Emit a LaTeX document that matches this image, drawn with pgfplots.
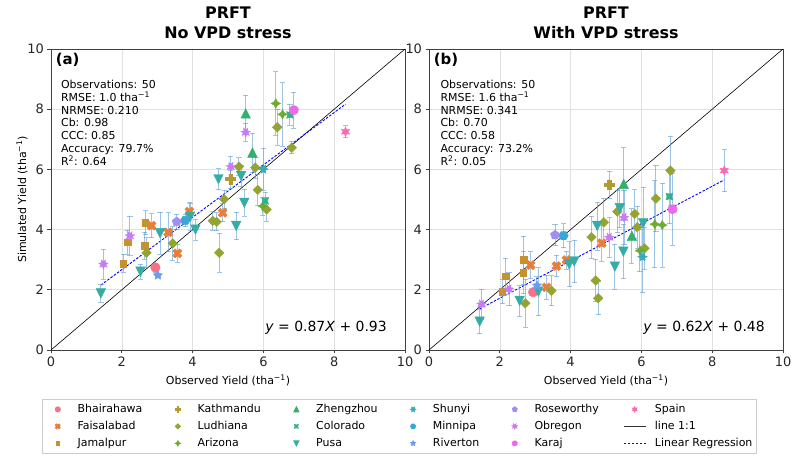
\documentclass[border=0pt]{standalone}
\usepackage{fontspec}
\setmainfont{DejaVu Sans}
\usepackage{pgfplots}
\pgfplotsset{compat=1.18}

\definecolor{cBha}{HTML}{F77189}
\definecolor{cFai}{HTML}{EA7D38}
\definecolor{cJam}{HTML}{C5922F}
\definecolor{cKat}{HTML}{B29B31}
\definecolor{cLud}{HTML}{95A331}
\definecolor{cAri}{HTML}{6DAB31}
\definecolor{cZhe}{HTML}{33B06C}
\definecolor{cCol}{HTML}{34AF8E}
\definecolor{cPus}{HTML}{36ADA4}
\definecolor{cShu}{HTML}{37ABB8}
\definecolor{cMin}{HTML}{3AA5D6}
\definecolor{cRiv}{HTML}{6A9CF3}
\definecolor{cRos}{HTML}{A08EF4}
\definecolor{cObr}{HTML}{C77CF4}
\definecolor{cKar}{HTML}{EA6BE9}
\definecolor{cSpa}{HTML}{F56CB5}
\definecolor{ebc}{HTML}{5E9CD3}
\definecolor{regb}{HTML}{0000FF}

\newcommand\Mv[2]{\pgfpathmoveto{\pgfqpoint{#1\pgfplotmarksize}{#2\pgfplotmarksize}}}
\newcommand\Ml[2]{\pgfpathlineto{\pgfqpoint{#1\pgfplotmarksize}{#2\pgfplotmarksize}}}
\newcommand\Mend{\pgfpathclose\pgfusepathqfillstroke}

\pgfdeclareplotmark{mo}{\pgfpathcircle{\pgfpointorigin}{\pgfplotmarksize}\pgfusepathqfillstroke}
\pgfdeclareplotmark{mX}{\Mv{0.4714}{-0.9428}\Ml{0}{-0.4714}\Ml{-0.4714}{-0.9428}\Ml{-0.9428}{-0.4714}\Ml{-0.4714}{0}\Ml{-0.9428}{0.4714}\Ml{-0.4714}{0.9428}\Ml{0}{0.4714}\Ml{0.4714}{0.9428}\Ml{0.9428}{0.4714}\Ml{0.4714}{0}\Ml{0.9428}{-0.4714}\Mend}
\pgfdeclareplotmark{msq}{\Mv{-0.7071}{0.7071}\Ml{-0.7071}{-0.7071}\Ml{0.7071}{-0.7071}\Ml{0.7071}{0.7071}\Mend}
\pgfdeclareplotmark{mP}{\Mv{-0.3333}{-1}\Ml{-0.3333}{-0.3333}\Ml{-1}{-0.3333}\Ml{-1}{0.3333}\Ml{-0.3333}{0.3333}\Ml{-0.3333}{1}\Ml{0.3333}{1}\Ml{0.3333}{0.3333}\Ml{1}{0.3333}\Ml{1}{-0.3333}\Ml{0.3333}{-0.3333}\Ml{0.3333}{-1}\Mend}
\pgfdeclareplotmark{mD}{\Mv{0}{1}\Ml{-1}{0}\Ml{0}{-1}\Ml{1}{0}\Mend}
\pgfdeclareplotmark{ms4}{\Mv{0}{1}\Ml{-0.3536}{0.3536}\Ml{-1}{0}\Ml{-0.3536}{-0.3536}\Ml{0}{-1}\Ml{0.3536}{-0.3536}\Ml{1}{0}\Ml{0.3536}{0.3536}\Mend}
\pgfdeclareplotmark{mtu}{\Mv{0}{1}\Ml{-1}{-1}\Ml{1}{-1}\Mend}
\pgfdeclareplotmark{ms4r}{\Mv{-0.7071}{0.7071}\Ml{-0.5}{0}\Ml{-0.7071}{-0.7071}\Ml{0}{-0.5}\Ml{0.7071}{-0.7071}\Ml{0.5}{0}\Ml{0.7071}{0.7071}\Ml{0}{0.5}\Mend}
\pgfdeclareplotmark{mtd}{\Mv{0}{-1}\Ml{-1}{1}\Ml{1}{1}\Mend}
\pgfdeclareplotmark{ms6r}{\Mv{-0.5}{0.866}\Ml{-0.433}{0.25}\Ml{-1}{0}\Ml{-0.433}{-0.25}\Ml{-0.5}{-0.866}\Ml{0}{-0.5}\Ml{0.5}{-0.866}\Ml{0.433}{-0.25}\Ml{1}{0}\Ml{0.433}{0.25}\Ml{0.5}{0.866}\Ml{0}{0.5}\Mend}
\pgfdeclareplotmark{mhex}{\Mv{-0.5}{0.866}\Ml{-1}{0}\Ml{-0.5}{-0.866}\Ml{0.5}{-0.866}\Ml{1}{0}\Ml{0.5}{0.866}\Mend}
\pgfdeclareplotmark{ms5}{\Mv{0}{1}\Ml{-0.2939}{0.4045}\Ml{-0.9511}{0.309}\Ml{-0.4755}{-0.1545}\Ml{-0.5878}{-0.809}\Ml{0}{-0.5}\Ml{0.5878}{-0.809}\Ml{0.4755}{-0.1545}\Ml{0.9511}{0.309}\Ml{0.2939}{0.4045}\Mend}
\pgfdeclareplotmark{mpent}{\Mv{0}{1}\Ml{-0.9511}{0.309}\Ml{-0.5878}{-0.809}\Ml{0.5878}{-0.809}\Ml{0.9511}{0.309}\Mend}
\pgfdeclareplotmark{ms7}{\Mv{-0.4339}{0.9010}\Ml{-0.3909}{0.3117}\Ml{-0.9749}{0.2225}\Ml{-0.4875}{-0.1113}\Ml{-0.7818}{-0.6235}\Ml{-0.2169}{-0.4505}\Ml{0}{-1}\Ml{0.2169}{-0.4505}\Ml{0.7818}{-0.6235}\Ml{0.4875}{-0.1113}\Ml{0.9749}{0.2225}\Ml{0.3909}{0.3117}\Ml{0.4339}{0.9010}\Ml{0}{0.5}\Mend}
\pgfdeclareplotmark{mhept}{\Mv{-0.4339}{0.9010}\Ml{-0.9749}{0.2225}\Ml{-0.7818}{-0.6235}\Ml{0}{-1}\Ml{0.7818}{-0.6235}\Ml{0.9749}{0.2225}\Ml{0.4339}{0.9010}\Mend}
\pgfdeclareplotmark{ms6}{\Mv{0}{1}\Ml{-0.25}{0.433}\Ml{-0.866}{0.5}\Ml{-0.5}{0}\Ml{-0.866}{-0.5}\Ml{-0.25}{-0.433}\Ml{0}{-1}\Ml{0.25}{-0.433}\Ml{0.866}{-0.5}\Ml{0.5}{0}\Ml{0.866}{0.5}\Ml{0.25}{0.433}\Mend}

\tikzset{stat/.style={anchor=north west, inner sep=0pt, align=left, font=\fontsize{11}{12.8}\selectfont}}

\pgfplotsset{
  panel/.style={
    scale only axis, width=354bp, height=301bp,
    xmin=0, xmax=10, ymin=0, ymax=10,
    xtick={0,2,...,10}, ytick={0,2,...,10},
    tick align=outside, major tick length=3.5bp,
    xtick pos=bottom, ytick pos=left,
    grid=major, major grid style={line width=0.6bp, draw=black!12},
    axis line style={line width=0.8bp, draw=black!75},
    every tick/.style={line width=0.8bp, draw=black!75},
    tick label style={font=\fontsize{13}{15}\selectfont, text=black!85},
    /pgf/number format/assume math mode=true,
    label style={font=\fontsize{11}{13}\selectfont},
    xlabel={Observed Yield (tha\textsuperscript{−1})},
    xlabel style={at={(axis description cs:0.5,-0.1)}, anchor=center},
    title style={font=\bfseries\fontsize{16}{20.5}\selectfont, align=center, at={(axis description cs:0.5,1)}, anchor=south, yshift=4bp, inner sep=0pt},
  },
  eb/.style={only marks, mark size=4.8bp,
    error bars/.cd, y dir=both, y explicit,
    error bar style={draw=ebc, line width=1bp, opacity=0.6},
    error mark options={draw=ebc, rotate=90, mark size=2.6bp, line width=0.8bp, opacity=0.6}},
  lgm/.style={only marks, mark size=2.6bp,
    legend image code/.code={\path[draw=none,fill=none] (0bp,0bp) -- (22bp,0bp);\draw[mark repeat=2,mark phase=2,##1] plot coordinates {(0bp,0bp) (11bp,0bp) (22bp,0bp)};}},
  lgone/.style={legend image code/.code={\draw[draw=black!80, line width=0.6bp, solid] (0bp,0bp) -- (22bp,0bp);}},
  lgreg/.style={legend image code/.code={\draw[draw=regb, line width=0.9bp, dash pattern=on 2.5bp off 1.5bp] (0bp,0bp) -- (22bp,0bp);}},
}

\begin{document}
\begin{tikzpicture}
\useasboundingbox (0,0) rectangle (800bp,460bp);

% ---------------- Panel (a) ----------------
\begin{axis}[panel, at={(51bp,110bp)}, anchor=south west,
  title={PRFT\\No VPD stress},
  ylabel={Simulated Yield (tha\textsuperscript{−1})},
  ylabel style={at={(axis description cs:-0.082,0.5)}, anchor=center},
  legend columns=6,
  legend cell align=left,
  legend style={at={(axis description cs:-0.0254,-0.163)}, anchor=north west,
    draw=black!20, line width=0.8bp, fill=white,
    font=\fontsize{11}{13}\selectfont,
    inner xsep=4.4bp, inner ysep=4.4bp, row sep=6bp,
    nodes={inner sep=0pt, text height=8.5bp, text depth=2.5bp},
    /tikz/every odd column/.append style={column sep=8.8bp},
    /tikz/every even column/.append style={column sep=24.5bp},
    /tikz/column 12/.append style={column sep=0pt}},
]
\addplot[black, line width=0.6bp, forget plot] coordinates {(0,0) (10,10)};
\addplot[regb, line width=0.9bp, dash pattern=on 2.5bp off 1.5bp, forget plot] coordinates {(1.41,2.157) (8.32,8.168)};

\addplot[mark=mo, color=cBha, forget plot, eb] coordinates {(2.95,2.74) +- (0,0.15)};
\addplot[mark=mX, color=cFai, forget plot, eb] coordinates {(2.84,4.13) +- (0,0.4) (3.31,3.91) +- (0,0.65) (3.57,3.21) +- (0,0.3) (3.91,4.60) +- (0,0.3) (4.85,4.56) +- (0,0.3)};
\addplot[mark=msq, color=cJam, forget plot, eb] coordinates {(2.04,2.88) +- (0,0.3) (2.16,3.58) +- (0,0.4) (2.64,3.47) +- (0,0.45) (2.66,4.23) +- (0,0.4)};
\addplot[mark=mP, color=cKat, forget plot, eb] coordinates {(5.07,5.68) +- (0,0.3)};
\addplot[mark=mD, color=cLud, forget plot, eb] coordinates {(2.70,3.23) +- (0,0.5) (3.44,3.54) +- (0,0.55) (4.57,4.29) +- (0,0.3) (4.68,4.26) +- (0,0.3) (4.75,3.23) +- (0,0.65) (4.89,5.01) +- (0,0.3) (5.31,6.09) +- (0,0.3) (5.77,6.06) +- (0,0.35) (5.84,5.32) +- (0,0.5) (6.09,4.67) +- (0,0.4) (6.39,7.40) +- (0,0.6) (6.80,6.72) +- (0,0.2)};
\addplot[mark=ms4, color=cAri, forget plot, eb] coordinates {(5.98,4.78) +- (0,0.3) (6.35,8.19) +- (0,1.05) (6.54,7.83) +- (0,1.05)};
\addplot[mark=mtu, color=cZhe, forget plot, eb] coordinates {(5.50,7.86) +- (0,0.6) (5.69,6.56) +- (0,0.65)};
\addplot[mark=ms4r, color=cCol, forget plot, eb] coordinates {(6.05,4.95) +- (0,0.3) (6.75,7.81) +- (0,0.35)};
\addplot[mark=mtd, color=cPus, forget plot, eb] coordinates {(1.41,1.88) +- (0,0.3) (2.53,2.60) +- (0,0.25) (3.08,3.88) +- (0,0.7) (3.93,4.43) +- (0,0.45) (4.08,4.00) +- (0,0.35) (4.73,5.67) +- (0,0.35) (5.23,4.12) +- (0,0.45) (5.37,5.78) +- (0,0.35) (5.46,4.89) +- (0,0.45)};
\addplot[mark=ms6r, color=cShu, forget plot, eb] coordinates {(6.00,6.01) +- (0,0.7)};
\addplot[mark=mhex, color=cMin, forget plot, eb] coordinates {(3.79,4.30) +- (0,0.2)};
\addplot[mark=ms5, color=cRiv, forget plot, eb] coordinates {(3.02,2.48) +- (0,0.05)};
\addplot[mark=mpent, color=cRos, forget plot, eb] coordinates {(3.55,4.26) +- (0,0.25)};
\addplot[mark=ms7, color=cObr, forget plot, eb] coordinates {(1.48,2.85) +- (0,0.5) (2.23,3.79) +- (0,0.65) (5.08,6.09) +- (0,0.35) (5.50,7.23) +- (0,0.3)};
\addplot[mark=mhept, color=cKar, forget plot, eb] coordinates {(6.86,7.97) +- (0,0.6)};
\addplot[mark=ms6, color=cSpa, forget plot, eb] coordinates {(8.32,7.25) +- (0,0.2)};

\node[anchor=north west, inner sep=0pt, font=\bfseries\fontsize{15}{18}\selectfont] at (axis description cs:0.013,0.986) {(a)};
\node[stat] at (axis description cs:0.028,0.897) {Observations: 50\\RMSE: 1.0 tha\textsuperscript{−1}\\NRMSE: 0.210\\Cb: 0.98\\CCC: 0.85\\Accuracy: 79.7\%\\R\textsuperscript{2}: 0.64};
\node[anchor=base east, inner sep=0pt, font=\fontsize{14}{16}\selectfont] at (axis description cs:0.949,0.063) {\textit{y} = 0.87\textit{X} + 0.93};

% legend (row-major order)
\addlegendimage{lgm, mark=mo, color=cBha}\addlegendentry{Bhairahawa}
\addlegendimage{lgm, mark=mP, color=cKat}\addlegendentry{Kathmandu}
\addlegendimage{lgm, mark=mtu, color=cZhe}\addlegendentry{Zhengzhou}
\addlegendimage{lgm, mark=ms6r, color=cShu}\addlegendentry{Shunyi}
\addlegendimage{lgm, mark=mpent, color=cRos}\addlegendentry{Roseworthy}
\addlegendimage{lgm, mark=ms6, color=cSpa}\addlegendentry{Spain}
\addlegendimage{lgm, mark=mX, color=cFai}\addlegendentry{Faisalabad}
\addlegendimage{lgm, mark=mD, color=cLud}\addlegendentry{Ludhiana}
\addlegendimage{lgm, mark=ms4r, color=cCol}\addlegendentry{Colorado}
\addlegendimage{lgm, mark=mhex, color=cMin}\addlegendentry{Minnipa}
\addlegendimage{lgm, mark=ms7, color=cObr}\addlegendentry{Obregon}
\addlegendimage{lgone}\addlegendentry{line 1:1}
\addlegendimage{lgm, mark=msq, color=cJam}\addlegendentry{Jamalpur}
\addlegendimage{lgm, mark=ms4, color=cAri}\addlegendentry{Arizona}
\addlegendimage{lgm, mark=mtd, color=cPus}\addlegendentry{Pusa}
\addlegendimage{lgm, mark=ms5, color=cRiv}\addlegendentry{Riverton}
\addlegendimage{lgm, mark=mhept, color=cKar}\addlegendentry{Karaj}
\addlegendimage{lgreg}\addlegendentry{Linear Regression}
\end{axis}

% ---------------- Panel (b) ----------------
\begin{axis}[panel, at={(429bp,110bp)}, anchor=south west,
  title={PRFT\\With VPD stress},
  yticklabel={},
]
\addplot[black, line width=0.6bp] coordinates {(0,0) (10,10)};
\addplot[regb, line width=0.9bp, dash pattern=on 2.5bp off 1.5bp] coordinates {(1.43,1.367) (8.34,5.651)};

\addplot[mark=mo, color=cBha, eb] coordinates {(2.94,1.92) +- (0,0.1)};
\addplot[mark=mX, color=cFai, eb] coordinates {(2.87,2.82) +- (0,0.45) (3.32,2.08) +- (0,0.4) (3.60,2.79) +- (0,0.35) (3.88,2.99) +- (0,0.3) (4.88,3.55) +- (0,0.6)};
\addplot[mark=msq, color=cJam, eb] coordinates {(2.07,1.94) +- (0,0.4) (2.17,2.45) +- (0,0.6) (2.66,2.57) +- (0,0.7) (2.68,2.99) +- (0,0.8)};
\addplot[mark=mP, color=cKat, eb] coordinates {(5.09,5.49) +- (0,0.45)};
\addplot[mark=mD, color=cLud, eb] coordinates {(2.72,1.55) +- (0,0.8) (3.46,1.97) +- (0,0.5) (4.59,3.75) +- (0,0.7) (4.71,2.31) +- (0,0.7) (4.78,1.72) +- (0,0.55) (4.94,4.24) +- (0,0.8) (5.32,4.60) +- (0,0.7) (5.81,4.52) +- (0,0.8) (5.88,4.08) +- (0,0.7) (6.09,3.38) +- (0,0.7) (6.41,5.03) +- (0,1.1) (6.82,5.96) +- (0,1.15)};
\addplot[mark=ms4, color=cAri, eb] coordinates {(5.96,3.30) +- (0,0.7) (6.38,4.18) +- (0,1.45) (6.59,4.15) +- (0,1.4)};
\addplot[mark=mtu, color=cZhe, eb] coordinates {(5.50,5.52) +- (0,1.2) (5.73,3.79) +- (0,0.9)};
\addplot[mark=ms4r, color=cCol, eb] coordinates {(6.79,5.10) +- (0,0.9)};
\addplot[mark=mtd, color=cPus, eb] coordinates {(1.43,0.94) +- (0,0.4) (2.56,1.63) +- (0,0.5) (3.09,1.94) +- (0,0.8) (3.96,2.85) +- (0,0.75) (4.10,2.94) +- (0,0.7) (4.75,4.12) +- (0,0.8) (5.25,2.77) +- (0,0.75) (5.39,4.71) +- (0,0.65) (5.49,3.27) +- (0,0.9) (6.05,4.21) +- (0,1.2)};
\addplot[mark=ms6r, color=cShu, eb] coordinates {(6.03,3.10) +- (0,1.2)};
\addplot[mark=mhex, color=cMin, eb] coordinates {(3.80,3.80) +- (0,0.4)};
\addplot[mark=ms5, color=cRiv, eb] coordinates {(3.05,2.14) +- (0,0.3)};
\addplot[mark=mpent, color=cRos, eb] coordinates {(3.56,3.82) +- (0,0.35)};
\addplot[mark=ms7, color=cObr, eb] coordinates {(1.48,1.52) +- (0,0.5) (2.26,2.02) +- (0,0.55) (5.09,3.74) +- (0,0.65) (5.51,4.40) +- (0,0.9)};
\addplot[mark=mhept, color=cKar, eb] coordinates {(6.88,4.68) +- (0,1.2)};
\addplot[mark=ms6, color=cSpa, eb] coordinates {(8.34,5.96) +- (0,0.7)};

\node[anchor=north west, inner sep=0pt, font=\bfseries\fontsize{15}{18}\selectfont] at (axis description cs:0.013,0.986) {(b)};
\node[stat] at (axis description cs:0.032,0.897) {Observations: 50\\RMSE: 1.6 tha\textsuperscript{−1}\\NRMSE: 0.341\\Cb: 0.70\\CCC: 0.58\\Accuracy: 73.2\%\\R\textsuperscript{2}: 0.05};
\node[anchor=base east, inner sep=0pt, font=\fontsize{14}{16}\selectfont] at (axis description cs:0.949,0.063) {\textit{y} = 0.62\textit{X} + 0.48};
\end{axis}
\end{tikzpicture}
\end{document}
